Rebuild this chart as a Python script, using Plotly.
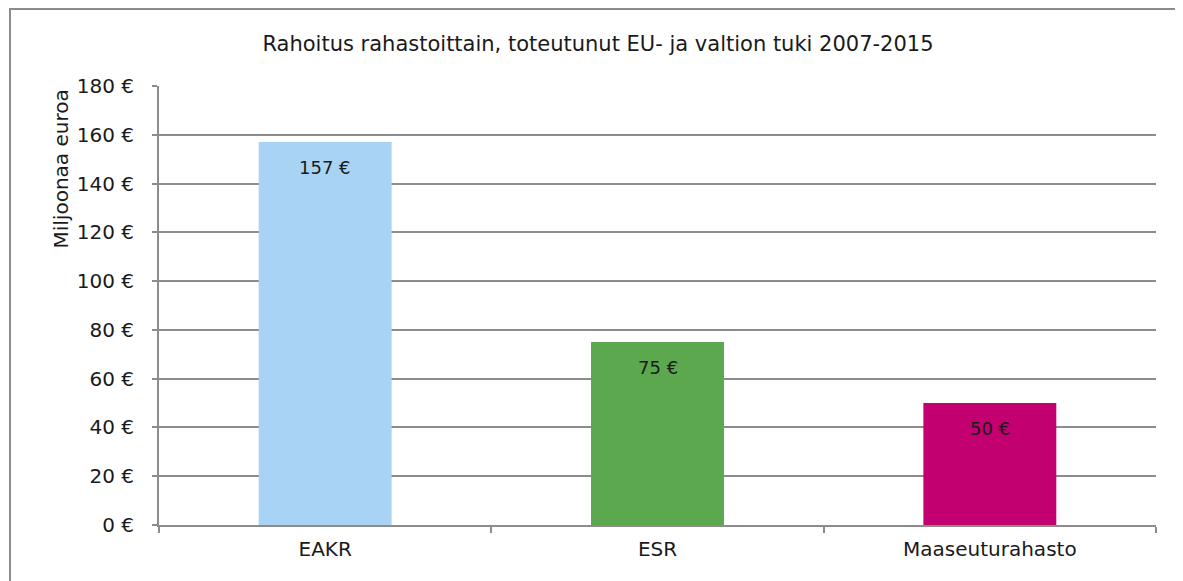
import plotly.graph_objects as go

categories = ["EAKR", "ESR", "Maaseuturahasto"]
values = [157, 75, 50]
bar_colors = ["#A9D3F4", "#5BA84F", "#C3006F"]
title_text = "Rahoitus rahastoittain, toteutunut EU- ja valtion tuki 2007-2015"
y_title = "Miljoonaa euroa"
y_ticks = [0, 20, 40, 60, 80, 100, 120, 140, 160, 180]
y_ticktext = [f"{v} €" for v in y_ticks]
labels = [f"{v} €" for v in values]

FONT = "DejaVu Sans"
TXT = "#1a1a1a"
GRID = "#8C8C8C"
OFF = 8  # page body margin in the browser

W, H = 1183, 581
L, R, T, B = 159 - OFF, 27 + OFF, 86 - OFF, 56 + OFF
PW, PH = W - L - R, H - T - B


def px_x(x):
    return (x - OFF - L) / PW


def px_y(y):
    return (H - B - (y - OFF)) / PH


fig = go.Figure()
fig.add_trace(go.Bar(
    x=categories,
    y=values,
    marker=dict(color=bar_colors, line=dict(width=0)),
    hoverinfo="skip",
))

for c, v, t in zip(categories, values, labels):
    fig.add_annotation(
        x=c, y=v, text=t, showarrow=False, xanchor="center", yanchor="top",
        yshift=-13, font=dict(family=FONT, size=18, color=TXT),
    )

fig.update_layout(
    width=W, height=H,
    paper_bgcolor="white", plot_bgcolor="white",
    margin=dict(l=L, r=R, t=T, b=B, autoexpand=False),
    bargap=0.6,
    showlegend=False,
    font=dict(family=FONT, size=18, color=TXT),
    title=dict(text=title_text, x=px_x(598), xanchor="center", xref="paper",
               y=1 - (44 - OFF) / H, yanchor="middle",
               font=dict(family=FONT, size=21, color=TXT)),
)

fig.update_xaxes(
    showline=True, linecolor=GRID, linewidth=2,
    ticks="outside", tickson="boundaries", ticklen=6, tickwidth=2, tickcolor=GRID,
    tickfont=dict(family=FONT, size=20, color=TXT),
    showgrid=False, ticklabelstandoff=5,
)
fig.update_yaxes(
    range=[0, 180], tickmode="array", tickvals=y_ticks, ticktext=y_ticktext,
    showline=True, linecolor=GRID, linewidth=2,
    ticks="outside", ticklen=5, tickwidth=2, tickcolor=GRID,
    showgrid=True, gridcolor=GRID, gridwidth=1.5,
    zeroline=False,
    tickfont=dict(family=FONT, size=20, color=TXT),
    ticklabelstandoff=14,
)

fig.add_annotation(
    text=y_title, textangle=-90, showarrow=False,
    xref="paper", yref="paper", x=px_x(60), y=px_y(88),
    xanchor="center", yanchor="top",
    font=dict(family=FONT, size=20, color=TXT),
)

fig.add_shape(
    type="rect", xref="paper", yref="paper",
    x0=px_x(10), x1=1.2, y0=-0.3, y1=px_y(OFF + 1),
    line=dict(color=GRID, width=2), fillcolor="rgba(0,0,0,0)",
    layer="below",
)

fig.write_html("out.html")
